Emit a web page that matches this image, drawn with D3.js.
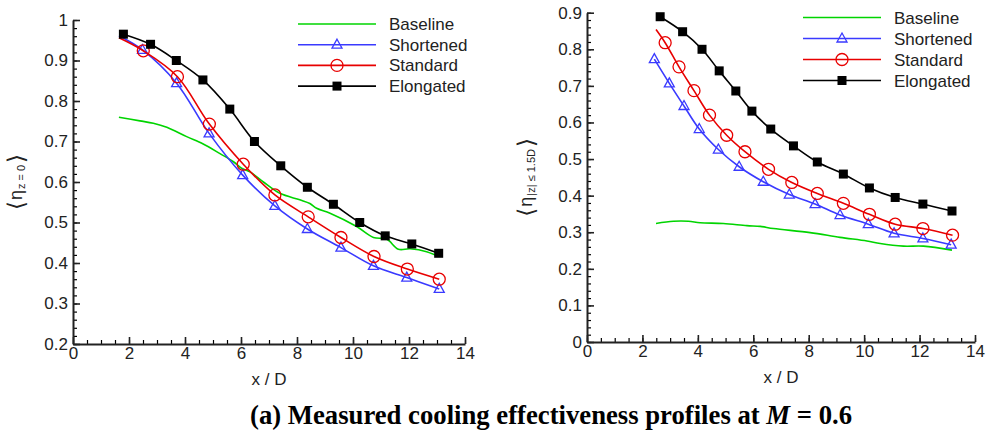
<!DOCTYPE html>
<html>
<head>
<meta charset="utf-8">
<script src="https://cdn.jsdelivr.net/npm/d3@7"></script>
<style>
  body { margin: 0; background: #fff; }
  text { font-family: "Liberation Sans", Arial, sans-serif; }
</style>
</head>
<body>
<svg width="986" height="432"></svg>
<script>
// series shared by both panels
var seriesNames = ["Baseline", "Shortened", "Standard", "Elongated"];
var seriesColors = ["#00d400", "#3a3aff", "#e80000", "#000000"];
var seriesMarks = ["none", "triangle", "circle", "square"];

var xTicks = [0, 2, 4, 6, 8, 10, 12, 14];

// left panel: <eta z=0>
var leftYTicks = [0.2, 0.3, 0.4, 0.5, 0.6, 0.7, 0.8, 0.9, 1];
var leftBaseX = [1.64, 2.39, 2.87, 3.35, 4.06, 4.65, 5.25, 5.73, 6.02, 6.32, 6.8, 7.39, 8.1, 8.46, 8.7, 9.18, 10.13, 10.73, 11.2, 11.62, 12.04, 12.63, 13.05];
var leftBaseY = [0.76, 0.751, 0.745, 0.735, 0.712, 0.694, 0.67, 0.65, 0.634, 0.625, 0.60, 0.572, 0.556, 0.547, 0.535, 0.523, 0.49, 0.463, 0.459, 0.434, 0.435, 0.428, 0.416];
var leftShortX = [1.64, 2.48, 3.70, 4.86, 6.06, 7.21, 8.37, 9.57, 10.73, 11.92, 13.08];
var leftShortY = [0.961, 0.926, 0.844, 0.72, 0.617, 0.541, 0.484, 0.438, 0.393, 0.364, 0.336];
var leftStdX = [1.64, 2.51, 3.73, 4.87, 6.08, 7.21, 8.4, 9.57, 10.75, 11.94, 13.08];
var leftStdY = [0.956, 0.924, 0.86, 0.743, 0.644, 0.568, 0.514, 0.463, 0.416, 0.385, 0.36];
var leftElongX = [1.8, 2.77, 3.69, 4.64, 5.6, 6.48, 7.42, 8.37, 9.30, 10.24, 11.15, 12.1, 13.06];
var leftElongY = [0.965, 0.94, 0.90, 0.852, 0.78, 0.70, 0.64, 0.587, 0.545, 0.50, 0.467, 0.447, 0.424];
var leftMarkFrom = [0, 1, 1, 0];

// right panel: <eta |z|<=1.5D>
var rightYTicks = [0, 0.1, 0.2, 0.3, 0.4, 0.5, 0.6, 0.7, 0.8, 0.9];
var rightBaseX = [2.49, 3.12, 3.66, 4.08, 4.92, 5.77, 6.25, 6.73, 8.05, 9.13, 10.1, 10.58, 11.42, 12.14, 13.17];
var rightBaseY = [0.324, 0.33, 0.33, 0.326, 0.324, 0.318, 0.316, 0.31, 0.299, 0.286, 0.276, 0.269, 0.262, 0.262, 0.251];
var rightShortX = [2.43, 2.97, 3.5, 4.05, 4.74, 5.49, 6.36, 7.3, 8.23, 9.13, 10.15, 11.08, 12.12, 13.14];
var rightShortY = [0.773, 0.707, 0.645, 0.582, 0.526, 0.479, 0.438, 0.403, 0.377, 0.347, 0.322, 0.297, 0.283, 0.266];
var rightStdX = [2.49, 2.82, 3.32, 3.86, 4.42, 5.04, 5.7, 6.55, 7.39, 8.31, 9.25, 10.19, 11.12, 12.12, 13.19];
var rightStdY = [0.854, 0.818, 0.752, 0.687, 0.62, 0.565, 0.52, 0.472, 0.436, 0.406, 0.379, 0.349, 0.322, 0.31, 0.292];
var rightElongX = [2.64, 3.45, 4.15, 4.77, 5.37, 5.95, 6.63, 7.45, 8.31, 9.25, 10.19, 11.12, 12.12, 13.17];
var rightElongY = [0.889, 0.848, 0.80, 0.741, 0.686, 0.631, 0.582, 0.536, 0.492, 0.459, 0.421, 0.395, 0.377, 0.358];
var rightMarkFrom = [0, 0, 1, 0];

var svg = d3.select("svg");

function zip(xs, ys) {
  return xs.map(function(v, i) { return [v, ys[i]]; });
}

function drawMarker(sel, kind, color) {
  if (kind == "triangle") {
    sel.append("path").attr("d", "M0,-5.5L5,3.5L-5,3.5Z")
      .attr("fill", "none").attr("stroke", color).attr("stroke-width", 1.3);
  } else if (kind == "circle") {
    sel.append("circle").attr("r", 6)
      .attr("fill", "none").attr("stroke", color).attr("stroke-width", 1.3);
  } else if (kind == "square") {
    sel.append("rect").attr("x", -4.5).attr("y", -4.5).attr("width", 9).attr("height", 9)
      .attr("fill", color);
  }
}

function panel(cfg) {
  var g = svg.append("g");
  var x = d3.scaleLinear().domain([0, 14]).range([cfg.x0, cfg.x1]);
  var y = d3.scaleLinear().domain([cfg.yTicks[0], cfg.yTicks[cfg.yTicks.length - 1]]).range([cfg.y0, cfg.y1]);

  // minor ticks first
  g.append("g").attr("transform", "translate(0," + cfg.y0 + ")")
    .call(d3.axisBottom(x).tickValues(d3.range(0, 14.01, 0.5)).tickSize(-4).tickSizeOuter(0).tickFormat(""))
    .call(function(a) { a.select(".domain").remove(); a.selectAll("line").attr("stroke-width", 1.2); });
  g.append("g").attr("transform", "translate(" + cfg.x0 + ",0)")
    .call(d3.axisLeft(y).tickValues(d3.range(0, 50).map(function(i) { return cfg.yTicks[0] + i * 0.02; })
      .filter(function(v) { return v <= y.domain()[1] + 1e-9; })).tickSize(-4).tickSizeOuter(0).tickFormat(""))
    .call(function(a) { a.select(".domain").remove(); a.selectAll("line").attr("stroke-width", 1.2); });

  var xa = g.append("g").attr("transform", "translate(0," + cfg.y0 + ")")
    .call(d3.axisBottom(x).tickValues(xTicks).tickSize(-7).tickSizeOuter(0).tickPadding(3).tickFormat(d3.format("d")));
  var ya = g.append("g").attr("transform", "translate(" + cfg.x0 + ",0)")
    .call(d3.axisLeft(y).tickValues(cfg.yTicks).tickSize(-7).tickSizeOuter(0).tickPadding(5).tickFormat(d3.format(".1~f")));
  [xa, ya].forEach(function(a) {
    a.select(".domain").attr("stroke-width", 2).attr("stroke", "#222");
    a.selectAll(".tick line").attr("stroke-width", 1.6).attr("stroke", "#222");
    a.selectAll("text").attr("font-size", 17).attr("fill", "#222");
  });

  var line = d3.line().x(function(d) { return x(d[0]); }).y(function(d) { return y(d[1]); })
    .curve(d3.curveCatmullRom);

  cfg.series.forEach(function(pts, k) {
    g.append("path").attr("d", line(pts)).attr("fill", "none")
      .attr("stroke", seriesColors[k]).attr("stroke-width", 1.6);
    if (seriesMarks[k] != "none") {
      pts.slice(cfg.markFrom[k]).forEach(function(p) {
        var m = g.append("g").attr("transform", "translate(" + x(p[0]) + "," + y(p[1]) + ")");
        drawMarker(m, seriesMarks[k], seriesColors[k]);
      });
    }
  });

  // legend
  seriesNames.forEach(function(name, k) {
    var ly = cfg.legY + k * cfg.legStep;
    g.append("line").attr("x1", cfg.legX).attr("x2", cfg.legX + 78).attr("y1", ly).attr("y2", ly)
      .attr("stroke", seriesColors[k]).attr("stroke-width", 1.6);
    var m = g.append("g").attr("transform", "translate(" + (cfg.legX + 39) + "," + ly + ")");
    drawMarker(m, seriesMarks[k], seriesColors[k]);
    g.append("text").attr("x", cfg.legX + 91).attr("y", ly + 6).attr("font-size", 17)
      .attr("fill", "#222").text(name);
  });

  // axis titles
  g.append("text").attr("x", (cfg.x0 + cfg.x1) / 2).attr("y", cfg.y0 + 41)
    .attr("text-anchor", "middle").attr("font-size", 17).attr("fill", "#222").text("x / D");

  var yl = g.append("text").attr("transform", "translate(" + cfg.labX + "," + ((cfg.y0 + cfg.y1) / 2) + ") rotate(-90)")
    .attr("text-anchor", "middle").attr("fill", "#222");
  yl.append("tspan").style("font-family", "DejaVu Sans").attr("font-size", 23).attr("dy", 2).text("\u27E8");
  yl.append("tspan").attr("font-size", 18).attr("dy", -2).attr("dx", 1).text("\u03B7");
  yl.append("tspan").attr("font-size", 11).attr("dy", 3).attr("dx", 1).text(cfg.sub);
  yl.append("tspan").style("font-family", "DejaVu Sans").attr("font-size", 23).attr("dy", -1).attr("dx", 2).text("\u27E9");
}

panel({
  x0: 73, x1: 465, y0: 344, y1: 20,
  yTicks: leftYTicks,
  series: [zip(leftBaseX, leftBaseY), zip(leftShortX, leftShortY), zip(leftStdX, leftStdY), zip(leftElongX, leftElongY)],
  markFrom: leftMarkFrom,
  legX: 298, legY: 24, legStep: 20.7,
  labX: 22, sub: "z = 0"
});

panel({
  x0: 587, x1: 975, y0: 342, y1: 12.7,
  yTicks: rightYTicks,
  series: [zip(rightBaseX, rightBaseY), zip(rightShortX, rightShortY), zip(rightStdX, rightStdY), zip(rightElongX, rightElongY)],
  markFrom: rightMarkFrom,
  legX: 803, legY: 17.5, legStep: 21,
  labX: 532, sub: "|z| \u2264 1.5D"
});

// caption
var cap = svg.append("text").attr("x", 250).attr("y", 424)
  .style("font-family", "'Liberation Serif', 'Times New Roman', serif")
  .attr("font-size", 26.7).attr("font-weight", "bold").attr("fill", "#000");
cap.append("tspan").text("(a) Measured cooling effectiveness profiles at ");
cap.append("tspan").attr("font-style", "italic").text("M");
cap.append("tspan").text(" = 0.6");
</script>
</body>
</html>
